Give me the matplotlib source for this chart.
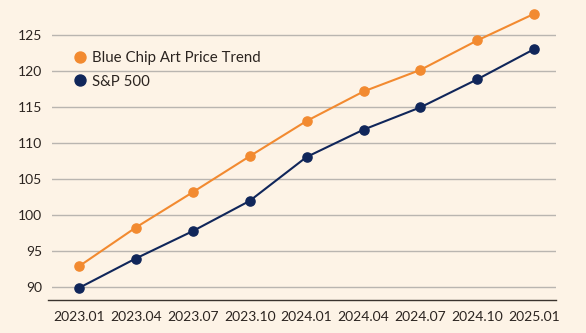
import matplotlib
matplotlib.use("Agg")
import matplotlib.pyplot as plt

periods = ["2023.01", "2023.04", "2023.07", "2023.10", "2024.01",
           "2024.04", "2024.07", "2024.10", "2025.01"]
art_trend = [92.9, 98.3, 103.2, 108.2, 113.1, 117.2, 120.2, 124.3, 128.0]
sp500 = [89.9, 94.0, 97.8, 102.0, 108.1, 111.9, 115.0, 118.9, 123.1]
y_ticks = [90, 95, 100, 105, 110, 115, 120, 125]

BG = "#FDF3E6"
ORANGE = "#F28A30"
NAVY = "#10265A"
GRID = "#B9B5B0"
TEXT = "#2B2420"

plt.rcParams['font.family'] = ['Lato', 'DejaVu Sans']

W, H = 586, 333
fig = plt.figure(figsize=(W / 100, H / 100), dpi=100, facecolor=BG)
left, right = 52, 556
bottom, top = 300, 4
ax = fig.add_axes([left / W, 1 - bottom / H, (right - left) / W, (bottom - top) / H])
ax.set_facecolor(BG)

x = list(range(len(periods)))
ax.plot(x, art_trend, color=ORANGE, lw=1.5, marker='o', ms=6.6,
        label="Blue Chip Art Price Trend", zorder=3)
ax.plot(x, sp500, color=NAVY, lw=1.5, marker='o', ms=6.6,
        label="S&P 500", zorder=3)

ax.set_xlim(-0.47, 8.38)
ax.set_ylim(88.24, 129.35)
ax.set_yticks(y_ticks)
ax.set_xticks(x)
ax.set_xticklabels(periods)
ax.yaxis.grid(True, color=GRID, lw=1.0)
ax.set_axisbelow(True)
for s in ["top", "right", "left", "bottom"]:
    ax.spines[s].set_visible(False)
ax.axhline(88.24, xmin=-4 / (right - left), xmax=1, color="#3A332E", lw=1.0,
           clip_on=False)
ax.tick_params(axis='both', length=0, labelsize=10, colors=TEXT)
ax.tick_params(axis='y', pad=7)
ax.tick_params(axis='x', pad=8)

leg = ax.legend(loc='upper left', bbox_to_anchor=(0.035, 0.86), frameon=False,
                prop={'family': ['Lato', 'DejaVu Sans'], 'size': 10.8},
                handlelength=0.6, handletextpad=0.5, labelspacing=0.62,
                labelcolor=TEXT, markerscale=1.2, borderaxespad=0)
for h in leg.legend_handles:
    h.set_linestyle('none')

fig.savefig("out.png", dpi=100, facecolor=BG)
